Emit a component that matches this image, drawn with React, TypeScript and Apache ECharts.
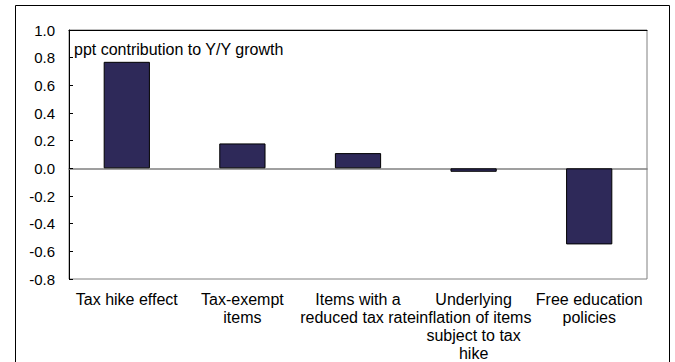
import React, { useEffect, useRef } from "react";
import * as echarts from "echarts";

const categories = [
  "Tax hike effect",
  "Tax-exempt\nitems",
  "Items with a\nreduced tax rate",
  "Underlying\ninflation of items\nsubject to tax\nhike",
  "Free education\npolicies",
];
const values = [0.77, 0.18, 0.11, -0.025, -0.55];
const yMin = -0.8;
const yMax = 1.0;
const yInterval = 0.2;
const annotation = "ppt contribution to Y/Y growth";

const FONT = "'Liberation Sans', Arial, sans-serif";

export default function App() {
  const ref = useRef<HTMLDivElement>(null);
  useEffect(() => {
    if (!ref.current) return;
    const chart = echarts.init(ref.current, undefined, { renderer: "svg" });
    chart.setOption({
      animation: false,
      backgroundColor: "#ffffff",
      textStyle: { fontFamily: FONT },
      grid: {
        left: 69,
        top: 30,
        right: 28,
        bottom: 81,
        show: true,
        borderColor: "#808080",
        borderWidth: 1,
        backgroundColor: "transparent",
      },
      xAxis: [
        {
          type: "category",
          data: categories,
          position: "bottom",
          axisLine: { show: true, onZero: true, lineStyle: { color: "#808080", width: 1.5 } },
          axisTick: { show: false },
          axisLabel: {
            interval: 0,
            color: "#000",
            fontSize: 16,
            lineHeight: 18,
            fontFamily: FONT,
            margin: 11,
          },
        },
        {
          type: "category",
          data: categories,
          position: "top",
          axisLine: { show: true, onZero: false, lineStyle: { color: "#000", width: 1 } },
          axisTick: { show: false },
          axisLabel: { show: false },
        },
      ],
      yAxis: {
        type: "value",
        min: yMin,
        max: yMax,
        interval: yInterval,
        axisLine: { show: true, lineStyle: { color: "#000", width: 1 } },
        axisTick: { show: true, inside: true, length: 4, lineStyle: { color: "#000" } },
        splitLine: { show: false },
        axisLabel: {
          color: "#000",
          fontSize: 15,
          fontFamily: FONT,
          margin: 14,
          formatter: (v: number) => v.toFixed(1),
        },
      },
      series: [
        {
          type: "bar",
          data: values,
          xAxisIndex: 0,
          barWidth: "40%",
          itemStyle: { color: "#2E2959", borderColor: "#000", borderWidth: 1 },
        },
      ],
      graphic: [
        {
          type: "rect",
          shape: { x: 15.5, y: 5.5, width: 654, height: 400 },
          style: { fill: "none", stroke: "#000", lineWidth: 1 },
          silent: true,
          z: 100,
        },
        {
          type: "text",
          left: 74,
          top: 41,
          style: { text: annotation, fill: "#000", fontSize: 16, fontFamily: FONT },
          z: 100,
        },
      ],
    });
    return () => chart.dispose();
  }, []);
  return (
    <div
      ref={ref}
      style={{ position: "fixed", left: 0, top: 0, width: 675, height: 362 }}
    />
  );
}
